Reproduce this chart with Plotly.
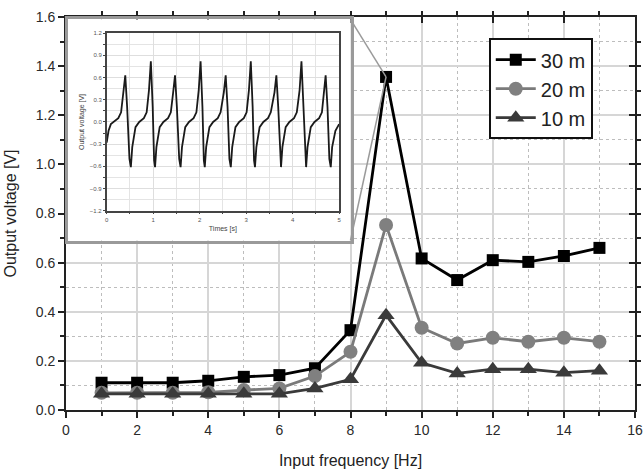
import plotly.graph_objects as go

# ---------------- data ----------------
freq = [1, 2, 3, 4, 5, 6, 7, 8, 9, 10, 11, 12, 13, 14, 15]
v30 = [0.111, 0.111, 0.111, 0.119, 0.135, 0.142, 0.170, 0.325, 1.356, 0.617, 0.529, 0.610, 0.603, 0.627, 0.660]
v20 = [0.070, 0.070, 0.070, 0.072, 0.081, 0.088, 0.138, 0.237, 0.753, 0.335, 0.271, 0.294, 0.278, 0.294, 0.278]
v10 = [0.066, 0.066, 0.066, 0.066, 0.066, 0.066, 0.088, 0.125, 0.386, 0.192, 0.149, 0.166, 0.166, 0.152, 0.160]
names = ["30 m", "20 m", "10 m"]

# inset waveform
t_inset = [0.00, 0.04, 0.09, 0.15, 0.25, 0.31, 0.36, 0.40, 0.44, 0.49, 0.52,
           0.55, 0.62, 0.70, 0.80, 0.86, 0.91, 0.95, 0.99, 1.02, 1.04,
           1.07, 1.14, 1.22, 1.32, 1.38, 1.43, 1.47, 1.51, 1.56, 1.59,
           1.62, 1.69, 1.77, 1.87, 1.93, 1.98, 2.02, 2.06, 2.09, 2.11,
           2.14, 2.21, 2.29, 2.39, 2.45, 2.52, 2.56, 2.60, 2.64, 2.67,
           2.70, 2.77, 2.85, 2.95, 3.01, 3.06, 3.10, 3.14, 3.17, 3.19,
           3.22, 3.29, 3.37, 3.47, 3.53, 3.61, 3.65, 3.69, 3.73, 3.75,
           3.78, 3.85, 3.93, 4.03, 4.09, 4.15, 4.19, 4.23, 4.27, 4.29,
           4.32, 4.39, 4.47, 4.57, 4.63, 4.67, 4.71, 4.75, 4.79, 4.82,
           4.85, 4.92, 5.00]
v_inset = [-0.28, -0.12, -0.03, 0.00, 0.05, 0.13, 0.40, 0.63, 0.20, -0.50, -0.61,
           -0.34, -0.07, 0.00, 0.05, 0.13, 0.43, 0.82, 0.20, -0.52, -0.61,
           -0.34, -0.07, 0.00, 0.05, 0.13, 0.40, 0.63, 0.20, -0.50, -0.61,
           -0.34, -0.07, 0.00, 0.05, 0.13, 0.43, 0.82, 0.20, -0.52, -0.61,
           -0.34, -0.07, 0.00, 0.05, 0.13, 0.40, 0.63, 0.20, -0.50, -0.61,
           -0.34, -0.07, 0.00, 0.05, 0.13, 0.43, 0.82, 0.20, -0.52, -0.61,
           -0.34, -0.07, 0.00, 0.05, 0.13, 0.40, 0.63, 0.20, -0.50, -0.61,
           -0.34, -0.07, 0.00, 0.05, 0.13, 0.43, 0.82, 0.20, -0.52, -0.61,
           -0.34, -0.07, 0.00, 0.05, 0.13, 0.40, 0.63, 0.20, -0.50, -0.61,
           -0.34, -0.12, -0.03]

# ---------------- geometry ----------------
X_RANGE = [0, 16]
Y_RANGE = [0, 1.6]
box_x = [0.06, 8.0]      # inset frame in main data units
box_y = [0.69, 1.59]
inset_dom_x = [0.0715, 0.480]
inset_dom_y = [0.507, 0.959]

FONT = "Liberation Sans, Arial, sans-serif"

fig = go.Figure()

styles = [
    dict(color="#000000", lc="#000000", symbol="square", size=12),
    dict(color="#808080", lc="#7a7a7a", symbol="circle", size=14),
    dict(color="#3a3a3a", lc="#3a3a3a", symbol="triangle-up", size=15),
]
for name, vals, st in zip(names, [v30, v20, v10], styles):
    fig.add_trace(go.Scatter(
        x=freq, y=vals, name=name, mode="lines+markers",
        line=dict(color=st["lc"], width=2.8),
        marker=dict(symbol=st["symbol"], size=st["size"], color=st["color"]),
        xaxis="x", yaxis="y"))

# box subplot (white background frame for the inset)
fig.add_trace(go.Scatter(x=[], y=[], xaxis="x2", yaxis="y2", showlegend=False, hoverinfo="skip"))
# inset waveform
fig.add_trace(go.Scatter(x=t_inset, y=v_inset, mode="lines", showlegend=False,
                         line=dict(color="#1a1a1a", width=1.8),
                         xaxis="x3", yaxis="y3"))
# mirrored inside ticks
fig.add_trace(go.Scatter(x=[], y=[], xaxis="x4", yaxis="y4", showlegend=False, hoverinfo="skip"))

# connector lines from inset frame to the peak
peak_i = v30.index(max(v30))
for yc in box_y:
    fig.add_shape(type="line", xref="x", yref="y",
                  x0=box_x[1], y0=yc, x1=freq[peak_i], y1=v30[peak_i],
                  line=dict(color="#9a9a9a", width=1.5), layer="above")

main_tick_font = dict(family=FONT, size=14, color="#2a2a2a")

fig.update_layout(
    width=644, height=469,
    margin=dict(l=66, r=9, t=17, b=59, autoexpand=False),
    paper_bgcolor="white", plot_bgcolor="white",
    font=dict(family=FONT, color="#222222"),
    showlegend=True,
    legend=dict(x=0.743, y=0.946, xanchor="left", yanchor="top",
                bgcolor="white", bordercolor="#111111", borderwidth=2,
                font=dict(family=FONT, size=20, color="#222222"),
                tracegroupgap=0, itemwidth=40),
    xaxis=dict(range=X_RANGE, dtick=2, tick0=0, domain=[0, 1], anchor="y", automargin=False,
               ticks="outside", ticklen=6, tickwidth=2, tickcolor="#222",
               showline=True, linecolor="#222", linewidth=2,
               showgrid=True, gridcolor="#d6d6d6", gridwidth=1.5, zeroline=False,
               minor=dict(dtick=1, ticklen=4, tickwidth=1.5, tickcolor="#222",
                          showgrid=True, gridcolor="#bdbdbd", griddash="dot", gridwidth=1.2),
               tickfont=main_tick_font,
               title=dict(text="Input frequency [Hz]", font=dict(size=16, color="#222"), standoff=19)),
    yaxis=dict(range=Y_RANGE, dtick=0.2, tick0=0, tickformat=".1f", domain=[0, 1], anchor="x",
               automargin=False,
               ticks="outside", ticklen=6, tickwidth=2, tickcolor="#222",
               showline=True, linecolor="#222", linewidth=2,
               showgrid=True, gridcolor="#d6d6d6", gridwidth=1.5, zeroline=False,
               minor=dict(dtick=0.1, ticklen=4, tickwidth=1.5, tickcolor="#222",
                          showgrid=True, gridcolor="#bdbdbd", griddash="dot", gridwidth=1.2),
               tickfont=main_tick_font,
               title=dict(text="Output voltage [V]", font=dict(size=16, color="#222"), standoff=15)),
    xaxis4=dict(range=X_RANGE, overlaying="x", side="top", anchor="y4", dtick=2, tick0=0,
                automargin=False,
                ticks="inside", ticklen=6, tickwidth=2, tickcolor="#222",
                showline=True, linecolor="#222", linewidth=2, mirror=False,
                showticklabels=False, showgrid=False, zeroline=False,
                minor=dict(dtick=1, ticklen=4, tickwidth=1.5, tickcolor="#222", showgrid=False)),
    yaxis4=dict(range=Y_RANGE, overlaying="y", side="right", anchor="x4", dtick=0.2, tick0=0,
                automargin=False,
                ticks="inside", ticklen=6, tickwidth=2, tickcolor="#222",
                showline=True, linecolor="#222", linewidth=2,
                showticklabels=False, showgrid=False, zeroline=False,
                minor=dict(dtick=0.1, ticklen=4, tickwidth=1.5, tickcolor="#222", showgrid=False)),
    xaxis2=dict(domain=[(box_x[0] - X_RANGE[0]) / (X_RANGE[1] - X_RANGE[0]),
                        (box_x[1] - X_RANGE[0]) / (X_RANGE[1] - X_RANGE[0])],
                anchor="y2", range=[0, 1], showline=True, mirror=True, automargin=False,
                linecolor="#9a9a9a", linewidth=2.5, ticks="", showticklabels=False,
                showgrid=False, zeroline=False),
    yaxis2=dict(domain=[(box_y[0] - Y_RANGE[0]) / (Y_RANGE[1] - Y_RANGE[0]),
                        (box_y[1] - Y_RANGE[0]) / (Y_RANGE[1] - Y_RANGE[0])],
                anchor="x2", range=[0, 1], showline=True, mirror=True, automargin=False,
                linecolor="#9a9a9a", linewidth=2.5, ticks="", showticklabels=False,
                showgrid=False, zeroline=False),
    xaxis3=dict(domain=inset_dom_x, anchor="y3", range=[0, 5], dtick=1, tick0=0,
                automargin=False,
                ticks="outside", ticklen=2, tickwidth=1, tickcolor="#444",
                showline=True, linecolor="#444", linewidth=1.5, mirror=True,
                showgrid=True, gridcolor="#dedede", gridwidth=1, zeroline=False,
                minor=dict(dtick=0.5, ticklen=1.5, tickcolor="#444", showgrid=True,
                           gridcolor="#e4e4e4", gridwidth=1),
                tickfont=dict(family=FONT, size=6, color="#555"),
                title=dict(text="Times [s]", font=dict(size=7, color="#444444"), standoff=4)),
    yaxis3=dict(domain=inset_dom_y, anchor="x3", range=[-1.2, 1.2], dtick=0.3, tick0=0,
                tickformat=".1f", automargin=False,
                ticks="outside", ticklen=2, tickwidth=1, tickcolor="#444",
                showline=True, linecolor="#444", linewidth=1.5, mirror=True,
                showgrid=True, gridcolor="#dedede", gridwidth=1, zeroline=False,
                minor=dict(dtick=0.15, ticklen=1.5, tickcolor="#444", showgrid=True,
                           gridcolor="#e4e4e4", gridwidth=1),
                tickfont=dict(family=FONT, size=6, color="#555"),
                title=dict(text="Output voltage [V]", font=dict(size=7, color="#444444"), standoff=4)),
)

fig.write_html("out.html")
